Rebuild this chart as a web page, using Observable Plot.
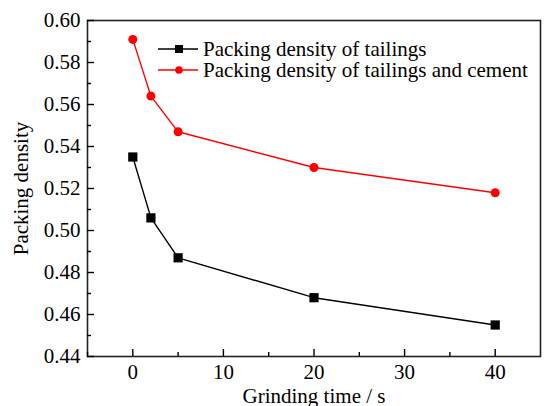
<!DOCTYPE html>
<html>
<head>
<meta charset="utf-8">
<script src="https://cdn.jsdelivr.net/npm/d3@7"></script>
<script src="https://cdn.jsdelivr.net/npm/@observablehq/plot@0.6"></script>
<style>
body { margin: 0; background: #fff; }
#wrap { position: relative; width: 545px; height: 406px; }
#legend { position: absolute; left: 0; top: 0; }
</style>
</head>
<body>
<div id="wrap"></div>
<script>
const grindingTime = [0, 2, 5, 20, 40];
const tailings = [0.535, 0.506, 0.487, 0.468, 0.455];
const tailingsCement = [0.591, 0.564, 0.547, 0.530, 0.518];
const seriesNames = ["Packing density of tailings", "Packing density of tailings and cement"];
const seriesColors = ["#000000", "#ff0000"];
const xMajor = [0, 10, 20, 30, 40];
const xMinor = [-5, 5, 15, 25, 35];
const yMajor = [0.44, 0.46, 0.48, 0.50, 0.52, 0.54, 0.56, 0.58, 0.60];
const yMinor = [0.45, 0.47, 0.49, 0.51, 0.53, 0.55, 0.57, 0.59];

const rowsA = grindingTime.map((t, i) => ({t, v: tailings[i]}));
const rowsB = grindingTime.map((t, i) => ({t, v: tailingsCement[i]}));

const font = "'Liberation Serif', 'Times New Roman', serif";
const fs = 21;

const chart = Plot.plot({
  width: 545,
  height: 406,
  marginLeft: 87,
  marginRight: 5,
  marginTop: 20,
  marginBottom: 50,
  style: {fontFamily: font, fontSize: fs + "px", color: "#000", background: "#fff"},
  x: {domain: [-5, 45]},
  y: {domain: [0.44, 0.60]},
  marks: [
    Plot.frame({stroke: "#222", strokeWidth: 1.6}),
    Plot.axisX(xMajor, {tickSize: 0, tickPadding: 8, fontSize: fs, fontFamily: font, label: "Grinding time / s", labelAnchor: "center", labelOffset: 46, labelArrow: "none"}),
    Plot.axisX(xMajor, {tickSize: -7, tickFormat: () => "", label: null, strokeWidth: 1.4}),
    Plot.axisX(xMinor, {tickSize: -4, tickFormat: () => "", label: null, strokeWidth: 1.4}),
    Plot.axisY(yMajor, {tickSize: 0, tickPadding: 7, fontSize: fs, fontFamily: font, tickFormat: d3.format(".2f"), label: "Packing density", labelAnchor: "center", labelOffset: 74, labelArrow: "none"}),
    Plot.axisY(yMajor, {tickSize: -7, tickFormat: () => "", label: null, strokeWidth: 1.4}),
    Plot.axisY(yMinor, {tickSize: -4, tickFormat: () => "", label: null, strokeWidth: 1.4}),
    Plot.line(rowsA, {x: "t", y: "v", stroke: seriesColors[0], strokeWidth: 1.4}),
    Plot.dot(rowsA, {x: "t", y: "v", symbol: "square", r: 5.2, fill: seriesColors[0], stroke: "none"}),
    Plot.line(rowsB, {x: "t", y: "v", stroke: seriesColors[1], strokeWidth: 1.4}),
    Plot.dot(rowsB, {x: "t", y: "v", symbol: "circle", r: 4.5, fill: seriesColors[1], stroke: "none"})
  ]
});
document.getElementById("wrap").appendChild(chart);

// legend overlay
const ns = "http://www.w3.org/2000/svg";
const lg = document.createElementNS(ns, "svg");
lg.setAttribute("id", "legend");
lg.setAttribute("width", 545);
lg.setAttribute("height", 406);
seriesNames.forEach((name, i) => {
  const cy = 49 + i * 21;
  const line = document.createElementNS(ns, "line");
  line.setAttribute("x1", 158); line.setAttribute("x2", 198);
  line.setAttribute("y1", cy); line.setAttribute("y2", cy);
  line.setAttribute("stroke", seriesColors[i]); line.setAttribute("stroke-width", 1.4);
  lg.appendChild(line);
  let m;
  if (i === 0) {
    m = document.createElementNS(ns, "rect");
    m.setAttribute("x", 175); m.setAttribute("y", cy - 4); m.setAttribute("width", 8); m.setAttribute("height", 8);
  } else {
    m = document.createElementNS(ns, "circle");
    m.setAttribute("cx", 179); m.setAttribute("cy", cy); m.setAttribute("r", 3.8);
  }
  m.setAttribute("fill", seriesColors[i]);
  lg.appendChild(m);
  const t = document.createElementNS(ns, "text");
  t.setAttribute("x", 203); t.setAttribute("y", cy);
  t.setAttribute("dy", "0.35em");
  t.setAttribute("font-family", font);
  t.setAttribute("font-size", fs);
  t.textContent = name;
  lg.appendChild(t);
});
document.getElementById("wrap").appendChild(lg);
</script>
</body>
</html>
